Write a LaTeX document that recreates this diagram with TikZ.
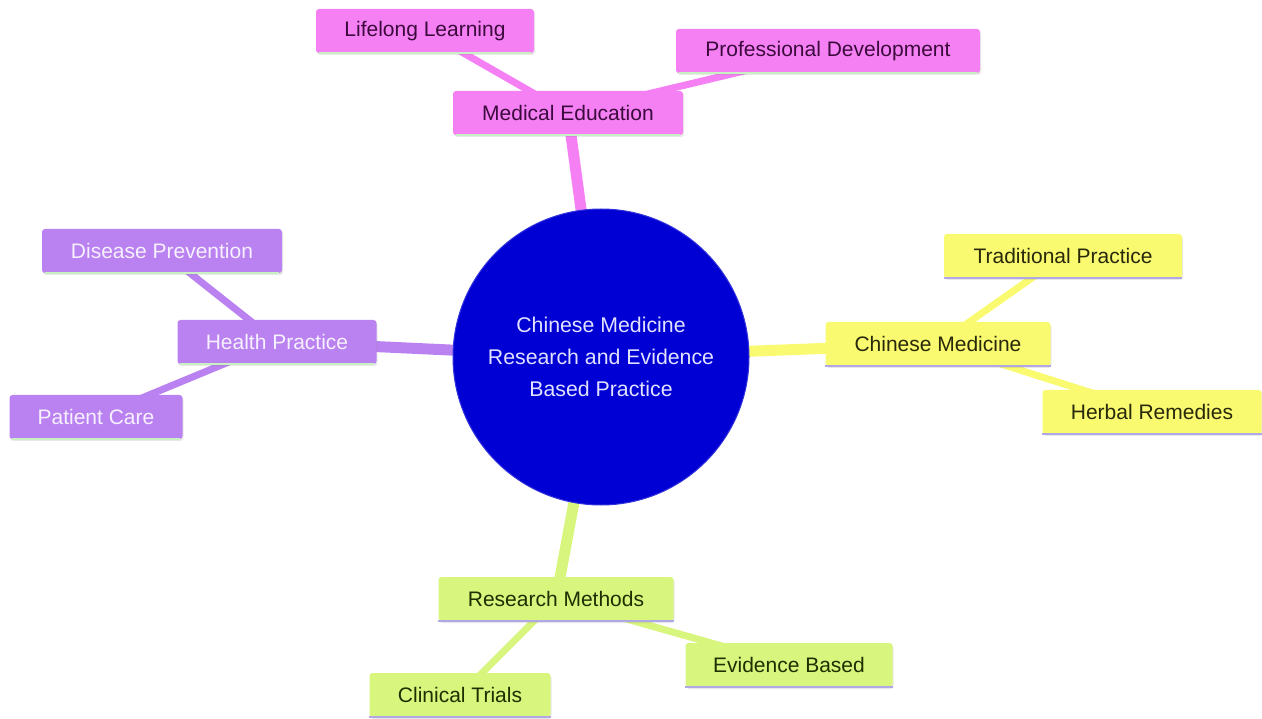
\documentclass[tikz,border=0pt]{standalone}
\usepackage{fontspec}
\setmainfont{Liberation Sans}
\usetikzlibrary{backgrounds,shadows}
\definecolor{pinkF}{RGB}{244,128,244}
\definecolor{purpF}{RGB}{186,130,240}
\definecolor{yelF}{RGB}{250,250,112}
\definecolor{grnF}{RGB}{216,245,126}
\definecolor{rootF}{RGB}{0,0,212}
\definecolor{pinkT}{RGB}{60,10,60}
\definecolor{purpT}{RGB}{246,240,255}
\definecolor{yelT}{RGB}{40,40,10}
\definecolor{grnT}{RGB}{28,48,0}
\definecolor{rootT}{RGB}{225,225,255}
\definecolor{lineG}{RGB}{200,240,195}
\definecolor{lineL}{RGB}{175,168,228}
\tikzset{
  box/.style={rounded corners=3pt, minimum height=44pt, inner xsep=0pt,
    font=\fontsize{21}{24}\selectfont,
    drop shadow={shadow xshift=1pt, shadow yshift=-2pt, opacity=.18}},
  pinkbox/.style={box, fill=pinkF, text=pinkT},
  purpbox/.style={box, fill=purpF, text=purpT},
  yelbox/.style={box, fill=yelF, text=yelT},
  grnbox/.style={box, fill=grnF, text=grnT},
  mainedge/.style={line width=11pt},
  subedge/.style={line width=7pt},
  underline/.style={line width=2.5pt}
}
\begin{document}
\begin{tikzpicture}[x=1pt,y=-1pt]
\useasboundingbox (0,0) rectangle (1262,719);
% root
\node[circle, fill=rootF, draw=rootF!80!white, line width=1pt, minimum size=296pt, text=rootT,
  align=center, font=\fontsize{21.3}{32}\selectfont] (root) at (601,357)
  {Chinese Medicine\\Research and Evidence\\Based Practice};
% pink
\node[pinkbox, minimum width=230pt] (me) at (568,113) {Medical Education};
\node[pinkbox, minimum width=218pt] (ll) at (425,31) {Lifelong Learning};
\node[pinkbox, minimum width=304pt] (pd) at (828,51) {Professional Development};
% purple
\node[purpbox, minimum width=199pt] (hp) at (277,342) {Health Practice};
\node[purpbox, minimum width=240pt] (dp) at (162,251) {Disease Prevention};
\node[purpbox, minimum width=173pt] (pc) at (96,417) {Patient Care};
% yellow
\node[yelbox, minimum width=225pt] (cm) at (938,344) {Chinese Medicine};
\node[yelbox, minimum width=238pt] (tp) at (1063,256) {Traditional Practice};
\node[yelbox, minimum width=219pt] (hr) at (1152,412) {Herbal Remedies};
% green
\node[grnbox, minimum width=235pt] (rm) at (556,599) {Research Methods};
\node[grnbox, minimum width=207pt] (eb) at (789,665) {Evidence Based};
\node[grnbox, minimum width=181pt] (ct) at (460,695) {Clinical Trials};
% bottom lines
\foreach \n in {me,ll,pd,hp,dp,pc}
  \draw[underline, lineG] ([xshift=3pt]\n.south west) -- ([xshift=-3pt]\n.south east);
\foreach \n in {cm,tp,hr,rm,eb,ct}
  \draw[underline, lineL] (\n.south west) -- (\n.south east);
\begin{pgfonlayer}{background}
  \draw[mainedge, pinkF] (root.center) -- (me.center);
  \draw[subedge, pinkF] (me.center) -- (ll.center);
  \draw[subedge, pinkF] (me.center) -- (pd.center);
  \draw[mainedge, purpF] (root.center) -- (hp.center);
  \draw[subedge, purpF] (hp.center) -- (dp.center);
  \draw[subedge, purpF] (hp.center) -- (pc.center);
  \draw[mainedge, yelF] (root.center) -- (cm.center);
  \draw[subedge, yelF] (cm.center) -- (tp.center);
  \draw[subedge, yelF] (cm.center) -- (hr.center);
  \draw[mainedge, grnF] (root.center) -- (rm.center);
  \draw[subedge, grnF] (rm.center) -- (eb.center);
  \draw[subedge, grnF] (rm.center) -- (ct.center);
\end{pgfonlayer}
\end{tikzpicture}
\end{document}
